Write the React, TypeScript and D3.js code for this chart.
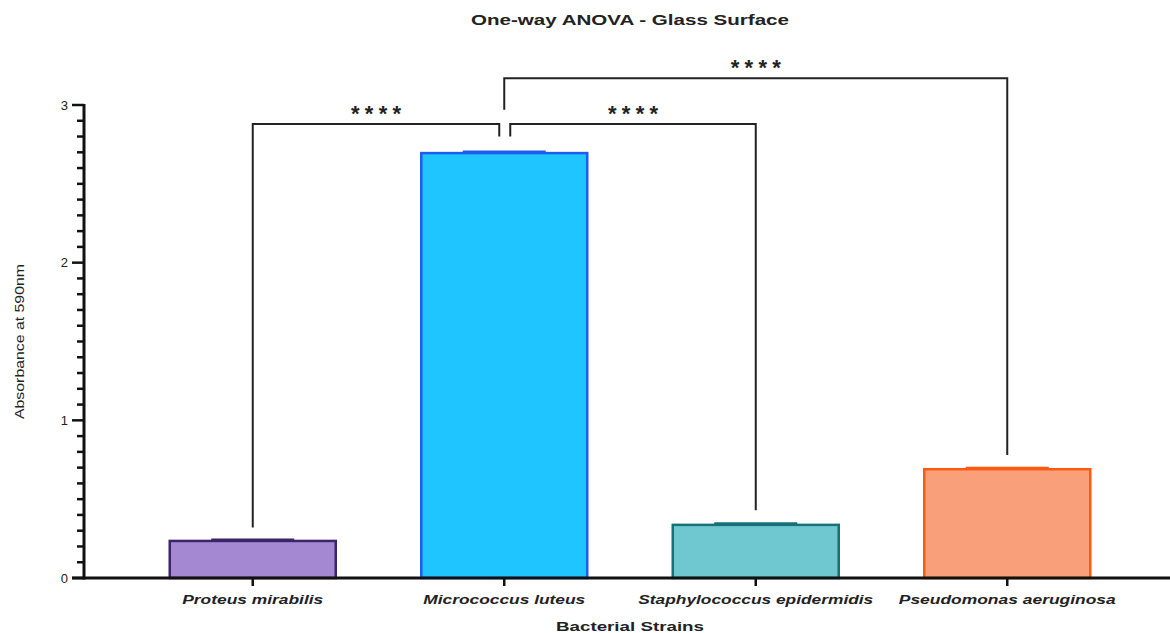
import * as d3 from "d3";

const STRAINS = ["Proteus mirabilis", "Micrococcus luteus", "Staphylococcus epidermidis", "Pseudomonas aeruginosa"];
const MEANS = [0.235, 2.695, 0.337, 0.69];
const SEMS = [0.008, 0.008, 0.008, 0.008];
const FILLS = ["#a488d2", "#1ec5fe", "#6fc8cf", "#f9a07a"];
const STROKES = ["#3b2468", "#1f5cf2", "#17707a", "#ff5a12"];
const Y_TICKS = [0, 1, 2, 3];
// label widths as printed (the source image is stretched sideways)
const LABEL_W = [141, 162, 235, 217];

// comparisons: from, to, bracket height, leg bottoms, sideways offsets of legs
const COMPARISONS = [
	{ a: 0, b: 1, level: 2.88, aEnd: 0.32, bEnd: 2.8, aShift: 0, bShift: -5 },
	{ a: 1, b: 2, level: 2.88, aEnd: 2.8, bEnd: 0.43, aShift: 6, bShift: 0 },
	{ a: 1, b: 3, level: 3.17, aEnd: 2.97, bEnd: 0.78, aShift: 0, bShift: 0 },
];
const SIG = ["****", "****", "****"];

const W = 1170;
const H = 633;
const FONT = "Liberation Sans, Arial, Helvetica, sans-serif";

export default function App() {
	const x = d3.scaleBand<string>().domain(STRAINS).range([127, 1133]).paddingInner(0.34).paddingOuter(0.17);
	const y = d3.scaleLinear().domain([0, 3]).range([578, 105]);
	const minor = d3.range(0, 30).filter((i) => i % 10 !== 0).map((i) => i / 10);
	const cx = (i: number) => (x(STRAINS[i]) ?? 0) + x.bandwidth() / 2;
	const axisX = 84;

	return (
		<svg width={W} height={H} style={{ position: "absolute", left: 0, top: 0, background: "#fff" }} fontFamily={FONT}>
			<text x={630} y={25} textAnchor="middle" fontSize={15} fontWeight="bold" fill="#222" textLength={318} lengthAdjust="spacingAndGlyphs">
				One-way ANOVA - Glass Surface
			</text>

			{/* bars */}
			{STRAINS.map((s, i) => (
				<g key={s}>
					<rect
						x={x(s)}
						y={y(MEANS[i])}
						width={x.bandwidth()}
						height={y(0) - y(MEANS[i])}
						fill={FILLS[i]}
						stroke={STROKES[i]}
						strokeWidth={2.5}
					/>
					<line
						x1={cx(i) - x.bandwidth() / 4}
						x2={cx(i) + x.bandwidth() / 4}
						y1={y(MEANS[i] + SEMS[i])}
						y2={y(MEANS[i] + SEMS[i])}
						stroke={STROKES[i]}
						strokeWidth={2.5}
					/>
				</g>
			))}

			{/* significance brackets */}
			{COMPARISONS.map((c, k) => {
				const x1 = cx(c.a) + c.aShift;
				const x2 = cx(c.b) + c.bShift;
				const yl = y(c.level);
				return (
					<g key={k}>
						<path d={`M${x1},${y(c.aEnd)}V${yl}H${x2}V${y(c.bEnd)}`} fill="none" stroke="#222" strokeWidth={2} />
						<text
							x={(x1 + x2) / 2}
							y={yl - 3}
							textAnchor="middle"
							fontSize={22}
							fontWeight="bold"
							fill="#222"
							textLength={50}
							lengthAdjust="spacing"
						>
							{SIG[k]}
						</text>
					</g>
				);
			})}

			{/* y axis */}
			<line x1={axisX} x2={axisX} y1={y(3) - 1} y2={y(0) + 1.5} stroke="#111" strokeWidth={3} />
			{minor.map((v) => (
				<line key={String(v)} x1={axisX - 7} x2={axisX} y1={y(v)} y2={y(v)} stroke="#111" strokeWidth={2.5} />
			))}
			{Y_TICKS.map((v) => (
				<g key={v}>
					<line x1={axisX - 12} x2={axisX} y1={y(v)} y2={y(v)} stroke="#111" strokeWidth={2.5} />
					<text x={axisX - 16} y={y(v)} dy="0.35em" textAnchor="end" fontSize={13} fill="#222">
						{v}
					</text>
				</g>
			))}
			<text
				transform={`translate(24,${(y(0) + y(3)) / 2}) rotate(-90)`}
				textAnchor="middle"
				fontSize={12}
				fill="#222"
				textLength={155}
				lengthAdjust="spacingAndGlyphs"
			>
				Absorbance at 590nm
			</text>

			{/* x axis */}
			<line x1={axisX - 12} x2={W} y1={y(0)} y2={y(0)} stroke="#111" strokeWidth={3} />
			{STRAINS.map((s, i) => (
				<g key={s}>
					<line x1={cx(i)} x2={cx(i)} y1={y(0)} y2={y(0) + 8} stroke="#111" strokeWidth={2.5} />
					<text
						x={cx(i)}
						y={604}
						textAnchor="middle"
						fontSize={13}
						fontWeight="bold"
						fontStyle="italic"
						fill="#222"
						textLength={LABEL_W[i]}
						lengthAdjust="spacingAndGlyphs"
					>
						{s}
					</text>
				</g>
			))}
			<text x={630} y={631} textAnchor="middle" fontSize={13} fontWeight="bold" fill="#222" textLength={148} lengthAdjust="spacingAndGlyphs">
				Bacterial Strains
			</text>
		</svg>
	);
}
